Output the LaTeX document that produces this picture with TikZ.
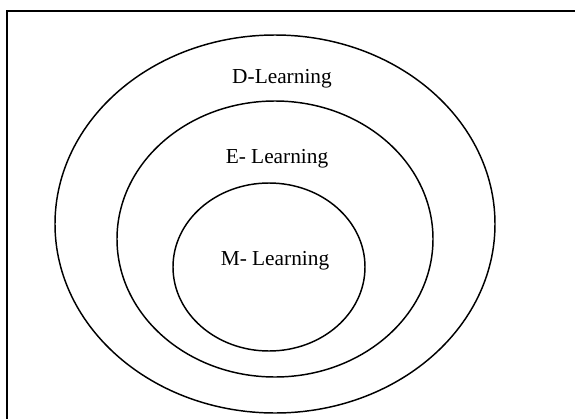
\documentclass[tikz,border=0pt]{standalone}
\usepackage{fontspec}
\setmainfont{Liberation Serif}
\usetikzlibrary{shapes.geometric}
\tikzset{
  ring/.style={
    draw=black,
    ellipse,
    line width=1.1pt,
    inner sep=0pt
  },
  ringlabel/.style={
    font=\fontsize{16}{19}\selectfont,
    anchor=base,
    inner sep=0pt
  },
  frame/.style={
    draw=black,
    line width=1.5pt
  }
}
\begin{document}
\begin{tikzpicture}[x=0.75pt, y=-0.75pt]
\useasboundingbox (0,0) rectangle (575,418);

% Outer frame, cut off at the right and bottom edges.
\begin{scope}
\clip (0,0) rectangle (575,418);
\coordinate (framenw) at (7,11);
\coordinate (framese) at (590,430);
\draw[frame] (framenw) rectangle (framese);
\end{scope}

% Nested learning sets.
\node[ring, minimum width=330pt, minimum height=283.5pt] (dlearn) at (275,224) {};
\node[ring, minimum width=237pt, minimum height=207pt] (elearn) at (275,239) {};
\node[ring, minimum width=144pt, minimum height=126pt] (mlearn) at (269,267) {};

\node[ringlabel] (dlabel) at (282,83) {D-Learning};
\node[ringlabel] (elabel) at (277,163) {E- Learning};
\node[ringlabel] (mlabel) at (275,265) {M- Learning};

\end{tikzpicture}
\end{document}
